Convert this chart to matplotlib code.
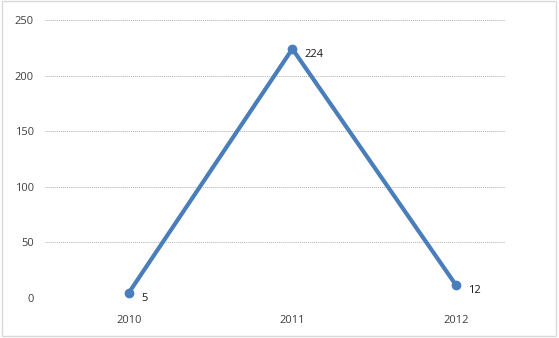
import matplotlib.pyplot as plt
from matplotlib.patches import Rectangle

years = ['2010', '2011', '2012']
values = [5, 224, 12]
yticks = [0, 50, 100, 150, 200, 250]

plt.rcParams['font.family'] = ['Open Sans', 'DejaVu Sans']

fig = plt.figure(figsize=(5.59, 3.38), dpi=100)
ax = fig.add_axes([0.0805, 0.118, 0.8225, 0.823])

# thin grey border round the whole chart
fig.patches.append(Rectangle((0.004, 0.006), 0.99, 0.99, transform=fig.transFigure,
                             fill=False, edgecolor='#d9d9d9', linewidth=1))

x = list(range(len(years)))
ax.plot(x, values, color='#4a7ebb', linewidth=3, marker='o', markersize=6,
        solid_capstyle='round')

for xi, v in zip(x, values):
    ax.annotate(str(v), (xi, v), xytext=(9, -4), textcoords='offset points',
                fontsize=8, color='#1a1a1a', va='center')

ax.set_xlim(-0.514, 2.30)
ax.set_ylim(0, 250)
ax.set_yticks(yticks)
ax.set_xticks(x)
ax.set_xticklabels(years)
ax.grid(axis='y', color='#b0b0b0', linestyle=(0, (1, 1)), linewidth=0.7)
ax.set_axisbelow(True)
for s in ax.spines.values():
    s.set_visible(False)
ax.tick_params(length=0, labelsize=8, colors='#404040', pad=8)
ax.tick_params(axis='x', pad=12)

fig.savefig('out.png', dpi=100)
